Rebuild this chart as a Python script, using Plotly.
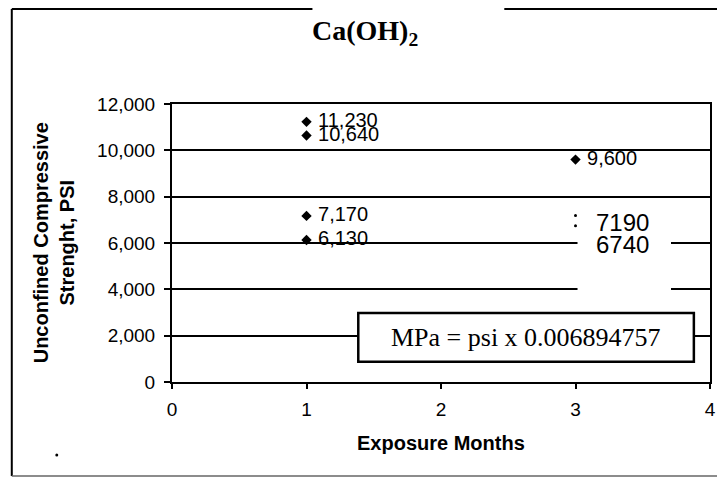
import plotly.graph_objects as go

# ---- data ----
months_m1 = [1, 1, 1, 1]
psi_m1 = [11230, 10640, 7170, 6130]
labels_m1 = ["11,230", "10,640", "7,170", "6,130"]
months_m3 = [3]
psi_m3 = [9600]
labels_m3 = ["9,600"]
months_m3b = [3, 3]
psi_m3b = [7190, 6740]
labels_m3b = ["7190", "6740"]
y_ticks = [0, 2000, 4000, 6000, 8000, 10000, 12000]
x_ticks = [0, 1, 2, 3, 4]
title_text = "Ca(OH)<sub>2</sub>"
x_title = "Exposure Months"
y_title_lines = ["Unconfined Compressive", "Strenght, PSI"]
note_text = "MPa = psi x 0.006894757"

# The page body has an 8px margin; work in page pixels and convert.
OFF = 8
W, H = 725 - OFF, 478 - OFF
PX0, PX1, PY0, PY1 = 172, 716, 104, 382  # plot box in page pixels
L, R, T, B = PX0 - OFF, PX1 - OFF, PY0 - OFF, PY1 - OFF


def px_x(p):
    return (p - PX0) / (PX1 - PX0)


def px_y(p):
    return (PY1 - p) / (PY1 - PY0)


SANS = "Liberation Sans, Arial"
SERIF = "Liberation Serif, Times New Roman"

fig = go.Figure()

fig.add_trace(go.Scatter(
    x=months_m1, y=psi_m1, mode="markers+text", text=labels_m1,
    texttemplate=" %{text}", textposition="middle right",
    marker=dict(symbol="diamond", size=8, color="black"),
    textfont=dict(family=SANS, size=20, color="black"),
    cliponaxis=False, showlegend=False))
fig.add_trace(go.Scatter(
    x=months_m3, y=psi_m3, mode="markers+text", text=labels_m3,
    texttemplate=" %{text}", textposition="middle right",
    marker=dict(symbol="diamond", size=8, color="black"),
    textfont=dict(family=SANS, size=20, color="black"),
    cliponaxis=False, showlegend=False))
fig.add_trace(go.Scatter(
    x=months_m3b, y=psi_m3b, mode="markers", yaxis="y2",
    marker=dict(symbol="circle", size=3, color="black"),
    showlegend=False))

# white knock-out box behind the 7190 / 6740 labels
fig.add_shape(type="rect", xref="x", yref="y", x0=3.015, x1=3.71, y0=3540, y1=7850,
              fillcolor="white", line=dict(width=0), layer="between")
for lab, val, ys in zip(labels_m3b, psi_m3b, [-7, -19]):
    fig.add_annotation(x=3, y=val, xref="x", yref="y", text=lab, showarrow=False,
                       xanchor="left", yanchor="middle", xshift=18, yshift=ys,
                       font=dict(family=SANS, size=24, color="black"))

# conversion note box
fig.add_shape(type="rect", xref="x", yref="y", x0=1.385, x1=3.88, y0=870, y1=2980,
              fillcolor="white", line=dict(color="black", width=2.5), layer="above")
fig.add_annotation(x=(1.385 + 3.88) / 2, y=1925, xref="x", yref="y", text=note_text,
                   showarrow=False, xanchor="center", yanchor="middle",
                   font=dict(family=SERIF, size=26, color="black"))

# outer frame (scanned chart border)
frame = dict(color="black", width=2)
fig.add_shape(type="line", xref="paper", yref="paper", x0=px_x(10), x1=px_x(10),
              y0=px_y(9), y1=px_y(476), line=frame)
fig.add_shape(type="line", xref="paper", yref="paper", x0=px_x(10), x1=px_x(725),
              y0=px_y(476), y1=px_y(476), line=dict(color="#666", width=1.5))
fig.add_shape(type="line", xref="paper", yref="paper", x0=px_x(10), x1=px_x(314),
              y0=px_y(9), y1=px_y(9), line=frame)
fig.add_shape(type="line", xref="paper", yref="paper", x0=px_x(508), x1=px_x(725),
              y0=px_y(9), y1=px_y(9), line=frame)
# small speck from the scan
fig.add_shape(type="circle", xref="paper", yref="paper", x0=px_x(54), x1=px_x(57),
              y0=px_y(453.5), y1=px_y(456.5), fillcolor="black", line=dict(width=0))

# titles
fig.add_annotation(x=px_x(367), y=px_y(32), xref="paper", yref="paper",
                   text="<b>" + title_text + "</b>",
                   showarrow=False, xanchor="center", yanchor="middle",
                   font=dict(family=SERIF, size=28, color="black"))
fig.add_annotation(x=0.5, y=px_y(443), xref="paper", yref="paper", text="<b>" + x_title + "</b>",
                   showarrow=False, xanchor="center", yanchor="middle",
                   font=dict(family=SANS, size=20, color="black"))
fig.add_annotation(x=px_x(53), y=0.5, xref="paper", yref="paper",
                   text="<br>".join("<b>" + s + "</b>" for s in y_title_lines),
                   showarrow=False, xanchor="center", yanchor="middle", textangle=-90,
                   font=dict(family=SANS, size=20, color="black"))

fig.update_layout(
    width=W, height=H,
    margin=dict(l=L, r=W - R, t=T, b=H - B),
    paper_bgcolor="white", plot_bgcolor="white",
    showlegend=False,
    font=dict(family=SANS, color="black"),
    yaxis2=dict(overlaying="y", range=[0, 12000], tickvals=y_ticks, ticks="inside",
                ticklen=6, tickwidth=1.5, tickcolor="black", showticklabels=False,
                showgrid=False, zeroline=False, showline=False, side="left"),
)
fig.update_xaxes(range=[0, 4], tickvals=x_ticks, ticks="outside", ticklen=5, tickwidth=1.5,
                 tickcolor="black", showgrid=False, zeroline=False,
                 showline=True, linecolor="black", linewidth=2, mirror=True,
                 ticklabelstandoff=4,
                 tickfont=dict(size=19, family=SANS, color="black"))
fig.update_yaxes(selector=dict(), overwrite=False)
fig.layout.yaxis.update(range=[0, 12000], tickvals=y_ticks, tickformat=",d", ticks="outside",
                        ticklen=6, tickwidth=1.5, tickcolor="black",
                        showgrid=True, gridcolor="black", gridwidth=1.5, zeroline=False,
                        showline=True, linecolor="black", linewidth=2, mirror=True,
                        ticklabelstandoff=5,
                        tickfont=dict(size=19, family=SANS, color="black"))

fig.write_html("out.html")
